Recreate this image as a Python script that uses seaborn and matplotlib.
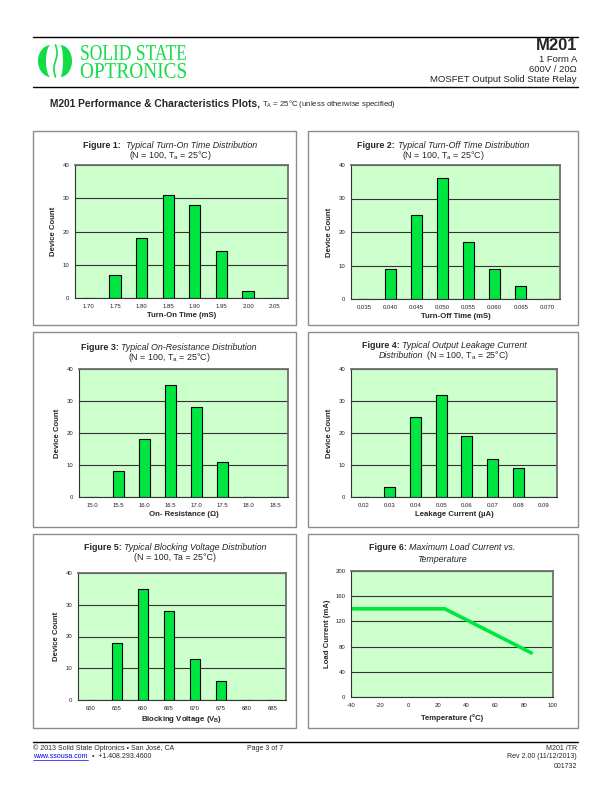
import numpy as np
import matplotlib
matplotlib.use("Agg")
import matplotlib.pyplot as plt
import seaborn as sns
from matplotlib.patches import Rectangle, Polygon, PathPatch
from matplotlib.textpath import TextPath
from matplotlib.font_manager import FontProperties
from matplotlib.transforms import Affine2D

# ---- data ----
on_time_labels = ["1.70", "1.75", "1.80", "1.85", "1.90", "1.95", "2.00", "2.05"]
on_time_counts = [0, 7, 18, 31, 28, 14, 2, 0]

off_time_labels = ["0.035", "0.040", "0.045", "0.050", "0.055", "0.060", "0.065", "0.070"]
off_time_counts = [0, 9, 25, 36, 17, 9, 4, 0]

ron_labels = ["15.0", "15.5", "16.0", "16.5", "17.0", "17.5", "18.0", "18.5"]
ron_counts = [0, 8, 18, 35, 28, 11, 0, 0]

leak_labels = ["0.02", "0.03", "0.04", "0.05", "0.06", "0.07", "0.08", "0.09"]
leak_counts = [0, 3, 25, 32, 19, 12, 9, 0]

vb_labels = ["650", "655", "660", "665", "670", "675", "680", "685"]
vb_counts = [0, 18, 35, 28, 13, 6, 0, 0]

temp_c = [-40, 25, 85]
load_ma = [140, 140, 70]

W, H = 612, 792
GREEN = "#00E640"
LOGO_GREEN = "#12DC46"
PLOT_BG = "#CCFFCC"

sns.set_style("white")
plt.rcParams['font.family'] = ['Liberation Sans', 'DejaVu Sans']
plt.rcParams['axes.unicode_minus'] = False
plt.rcParams['mathtext.fontset'] = 'custom'
plt.rcParams['mathtext.rm'] = 'Liberation Sans'
plt.rcParams['mathtext.it'] = 'Liberation Sans:italic'
plt.rcParams['mathtext.bf'] = 'Liberation Sans:bold'

fig = plt.figure(figsize=(W / 100, H / 100), dpi=100)
fig.patch.set_facecolor("white")

# page overlay in pixel coordinates
page = fig.add_axes([0, 0, 1, 1])
page.set_xlim(0, W)
page.set_ylim(H, 0)
page.axis("off")
renderer = fig.canvas.get_renderer()


def px_rect(left, right, top, bottom):
    return [left / W, 1 - bottom / H, (right - left) / W, (bottom - top) / H]


def rich_line(xc, y, parts, size=6.4):
    # place differently styled pieces side by side, centred on xc
    placed = []
    x = 0
    for s, kw in parts:
        t = page.text(x, y, s, fontsize=size, ha="left", va="center", **kw)
        w = t.get_window_extent(renderer).width
        placed.append((t, x))
        x += w
    for t, off in placed:
        t.set_x(xc - x / 2 + off)


def fitted_text(s, x0, x1, y0, y1, family="Liberation Serif", color=LOGO_GREEN):
    tp = TextPath((0, 0), s, size=20, prop=FontProperties(family=family))
    v = tp.vertices
    bx0, by0 = v[:, 0].min(), v[:, 1].min()
    bx1, by1 = v[:, 0].max(), v[:, 1].max()
    tr = (Affine2D().translate(-bx0, -by0)
          .scale((x1 - x0) / (bx1 - bx0), -(y1 - y0) / (by1 - by0))
          .translate(x0, y1))
    page.add_patch(PathPatch(tr.transform_path(tp), fc=color, ec="none"))


def crescent(cx, cy, rx_out, ry, rx_in, side):
    th = np.linspace(np.pi / 2, 3 * np.pi / 2, 60)
    if side == "right":
        th = th + np.pi
    outer = np.c_[cx + rx_out * np.cos(th), cy + ry * np.sin(th)]
    inner = np.c_[cx + rx_in * np.cos(th[::-1]), cy + ry * np.sin(th[::-1])]
    page.add_patch(Polygon(np.vstack([outer, inner]), closed=True, fc=LOGO_GREEN, ec="none"))


# ---- header ----
page.plot([33, 578], [37, 37], color="black", lw=1.0)
page.plot([33, 578], [87, 87], color="black", lw=1.0)

# logo mark: two crescents with a thin S stroke between them
crescent(51, 61, 13, 16, 5, "left")
crescent(60, 61, 12, 16, 3, "right")
ys = np.linspace(45, 77, 50)
page.plot(55.5 - 1.6 * np.sin(np.pi * (ys - 61) / 16), ys, color=LOGO_GREEN, lw=1.2)
fitted_text("SOLID STATE", 80, 186, 45, 60)
fitted_text("OPTRONICS", 80, 186, 63, 78)

page.text(577, 45, "M201", fontsize=12, fontweight="bold", ha="right", va="center")
page.text(577, 59, "1 Form A", fontsize=6.8, ha="right", va="center")
page.text(577, 69, "600V / 20Ω", fontsize=6.8, ha="right", va="center")
page.text(577, 80, "MOSFET Output Solid State Relay", fontsize=6.8, ha="right", va="center")

t = page.text(50, 103, "M201 Performance & Characteristics Plots,", fontsize=7.4,
              fontweight="bold", ha="left", va="center")
x_after = 50 + t.get_window_extent(renderer).width
page.text(x_after + 2, 103.5, r"T$_\mathregular{A}$ = 25°C (unless otherwise specified)",
          fontsize=5.6, ha="left", va="center")

# ---- panel boxes ----
boxes = [(33, 296, 131, 325), (308, 578, 131, 325),
         (33, 296, 332, 527), (308, 578, 332, 527),
         (33, 296, 534, 728), (308, 578, 534, 728)]
for l, r, tp_, b in boxes:
    page.add_patch(Rectangle((l, tp_), r - l, b - tp_, fill=False, ec="#8c8c8c", lw=1.0))


def style_axes(ax):
    ax.set_facecolor(PLOT_BG)
    for side in ["top", "right"]:
        ax.spines[side].set_color("#6e6e6e")
        ax.spines[side].set_linewidth(1.3)
    for side in ["left", "bottom"]:
        ax.spines[side].set_color("#333333")
        ax.spines[side].set_linewidth(0.8)
    ax.yaxis.grid(True, color="#333333", lw=0.8)
    ax.set_axisbelow(True)
    ax.tick_params(axis="both", labelsize=4.3, length=2, width=0.6, pad=2, colors="#222222")


def bar_panel(rect, labels, counts, xlabel):
    ax = fig.add_axes(rect)
    sns.barplot(x=labels, y=counts, order=labels, color=GREEN, saturation=1,
                edgecolor="black", linewidth=0.8, width=0.42, ax=ax)
    ax.set_xlim(-0.5, len(labels) - 0.5)
    ax.set_ylim(0, 40)
    ax.set_yticks([0, 10, 20, 30, 40])
    style_axes(ax)
    ax.tick_params(axis="x", length=0, pad=4)
    ax.set_xticks(np.arange(len(labels)) - 0.5, minor=True)
    ax.tick_params(axis="x", which="minor", length=2, width=0.6)
    ax.set_xlabel(xlabel, fontsize=5.6, fontweight="bold", labelpad=2.5)
    ax.set_ylabel("Device Count", fontsize=5.6, fontweight="bold", labelpad=4)
    return ax


bar_panel(px_rect(75, 288, 165, 298), on_time_labels, on_time_counts, "Turn-On Time (mS)")
bar_panel(px_rect(351, 560, 165, 299), off_time_labels, off_time_counts, "Turn-Off Time (mS)")
bar_panel(px_rect(79, 288, 369, 497), ron_labels, ron_counts, "On- Resistance (Ω)")
bar_panel(px_rect(351, 557, 369, 497), leak_labels, leak_counts, "Leakage Current (µA)")
bar_panel(px_rect(78, 286, 573, 700), vb_labels, vb_counts, r"Blocking Voltage (V$_\mathregular{B}$)")

# figure 6: derating line
ax6 = fig.add_axes(px_rect(351, 553, 571, 697))
sns.lineplot(x=temp_c, y=load_ma, color=GREEN, lw=2.6, ax=ax6)
ax6.set_xlim(-40, 100)
ax6.set_ylim(0, 200)
ax6.set_xticks(np.arange(-40, 101, 20))
ax6.set_yticks(np.arange(0, 201, 40))
ax6.set_yticks(np.arange(0, 201, 20), minor=True)
style_axes(ax6)
ax6.tick_params(axis="y", which="minor", length=1.5, width=0.5)
ax6.set_xlabel("Temperature (°C)", fontsize=5.6, fontweight="bold", labelpad=4.5)
ax6.set_ylabel("Load Current (mA)", fontsize=5.6, fontweight="bold", labelpad=3)

# ---- panel titles ----
B = {"fontweight": "bold"}
I = {"style": "italic"}
N = {}
sub = r"(N = 100, T$_\mathregular{a}$ = 25°C)"
rich_line(170, 146, [("Figure 1:  ", B), ("Typical Turn-On Time Distribution", I)])
rich_line(170, 156, [(sub, N)])
rich_line(443, 146, [("Figure 2: ", B), ("Typical Turn-Off Time Distribution", I)])
rich_line(443, 156, [(sub, N)])
rich_line(169, 347, [("Figure 3: ", B), ("Typical On-Resistance Distribution", I)])
rich_line(169, 357, [(sub, N)])
rich_line(444, 345, [("Figure 4: ", B), ("Typical Output Leakage Current", I)])
rich_line(444, 356, [("Distribution", I), (" " + sub, N)])
rich_line(175, 547, [("Figure 5: ", B), ("Typical Blocking Voltage Distribution", I)])
rich_line(175, 557, [("(N = 100, Ta = 25°C)", N)])
rich_line(442, 548, [("Figure 6: ", B), ("Maximum Load Current vs.", I)])
rich_line(442, 559, [("Temperature", I)])

# ---- footer ----
page.plot([33, 578], [742, 742], color="black", lw=1.0)
page.text(33, 748, "© 2013 Solid State Optronics • San José, CA", fontsize=5, ha="left", va="center")
lk = page.text(33, 757, "www.ssousa.com", fontsize=5, ha="left", va="center", color="#0000EE")
lw_ = lk.get_window_extent(renderer).width
page.plot([33, 33 + lw_], [760, 760], color="#0000EE", lw=0.5)
page.text(33 + lw_ + 2, 757, " •  +1.408.293.4600", fontsize=5, ha="left", va="center")
page.text(247, 748, "Page 3 of 7", fontsize=5, ha="left", va="center")
page.text(577, 748, "M201 /TR", fontsize=5, ha="right", va="center")
page.text(577, 757, "Rev 2.00 (11/12/2013)", fontsize=5, ha="right", va="center")
page.text(577, 767, "001732", fontsize=5, ha="right", va="center")

fig.savefig("out.png", dpi=100)
